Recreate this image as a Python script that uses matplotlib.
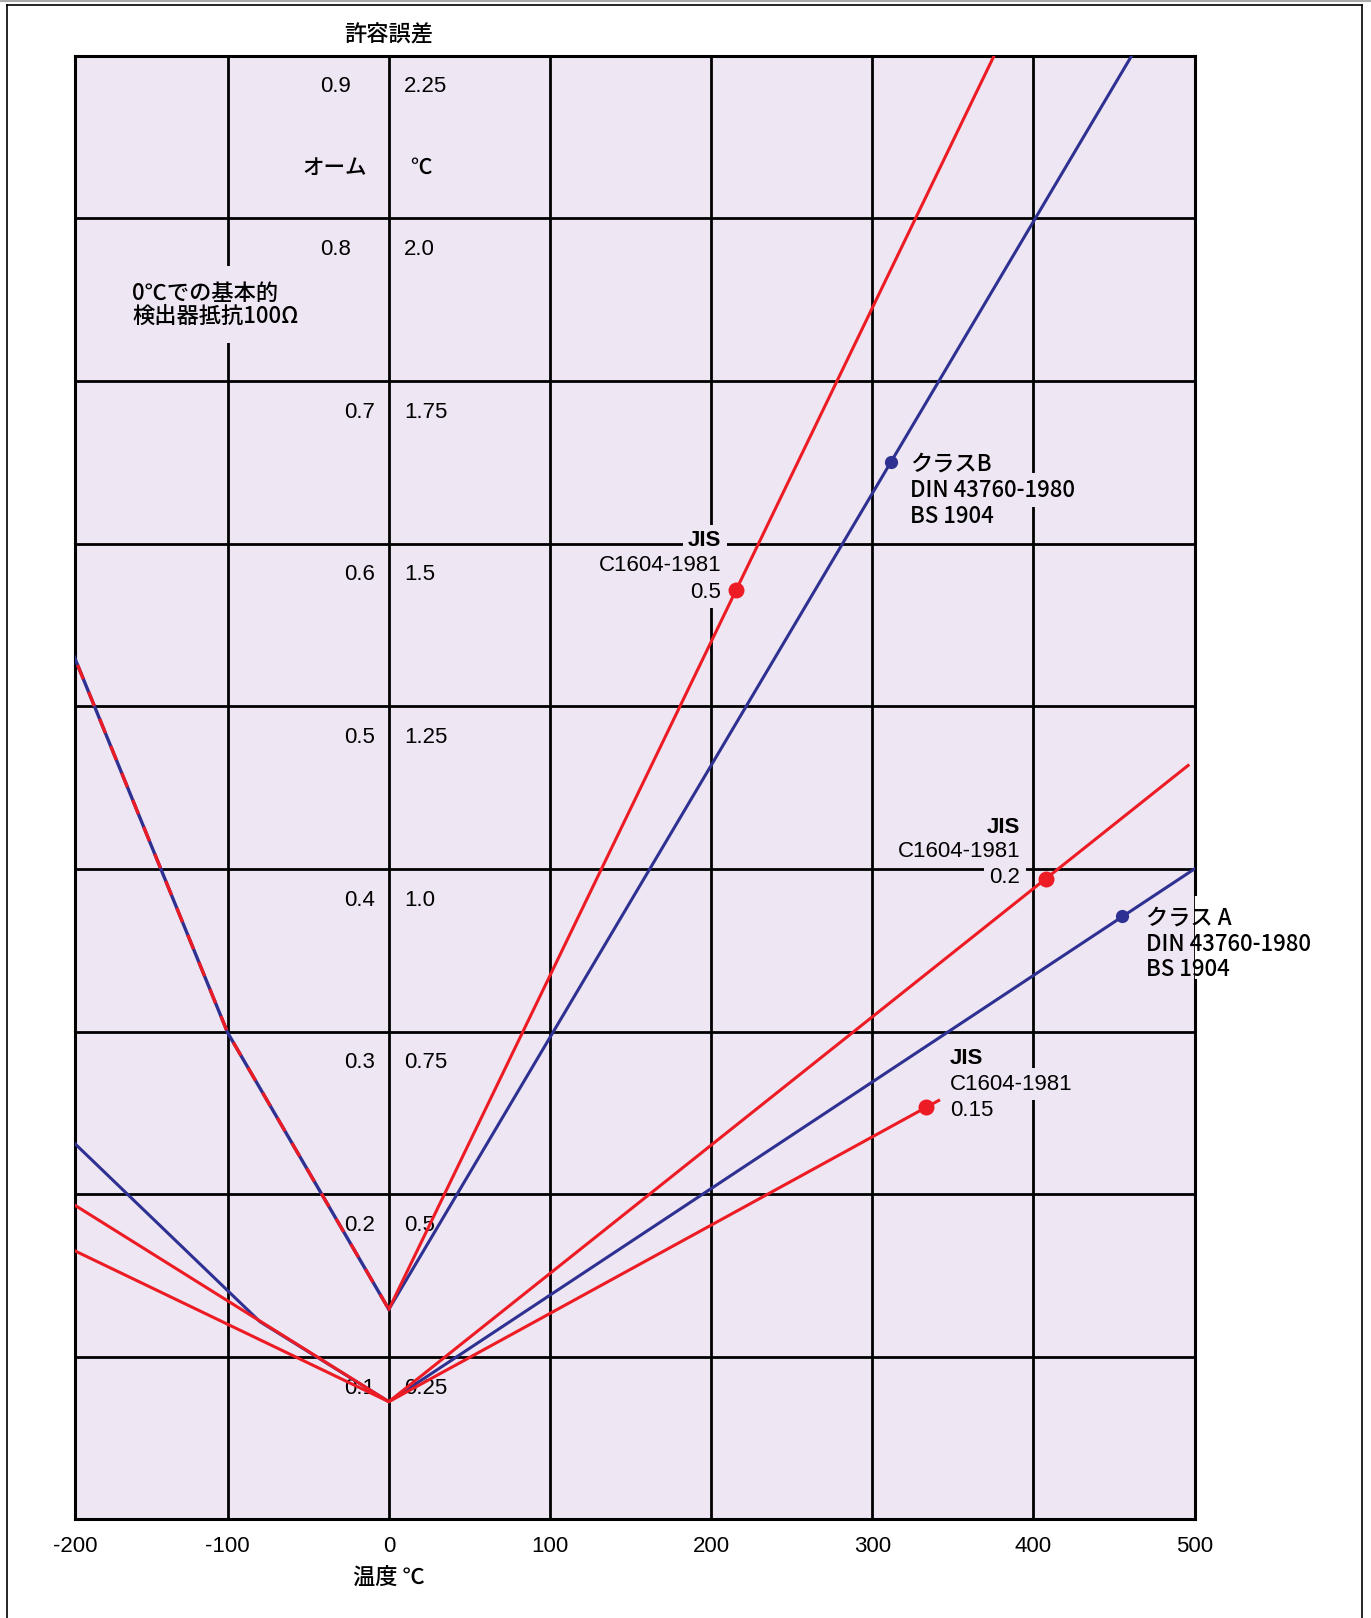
import matplotlib
matplotlib.use('Agg')
import matplotlib.pyplot as plt
from matplotlib.transforms import blended_transform_factory
from matplotlib.lines import Line2D

plt.rcParams['lines.scale_dashes'] = False

RED = '#ED1C24'
BLUE = '#2E3192'
BG = '#EEE6F2'
CJK = ['Noto Sans CJK JP', 'DejaVu Sans']
LAT = ['Liberation Sans', 'DejaVu Sans']
FS = 16
CJKW = 'medium'

# ---------------- data ----------------
x_ticks = [-200, -100, 0, 100, 200, 300, 400, 500]
x_tick_labels = ['-200', '-100', '0', '100', '200', '300', '400', '500']
grid_levels = [2.25, 2.0, 1.75, 1.5, 1.25, 1.0, 0.75, 0.5, 0.25]
ohm_labels = ['0.9', '0.8', '0.7', '0.6', '0.5', '0.4', '0.3', '0.2', '0.1']
degc_labels = ['2.25', '2.0', '1.75', '1.5', '1.25', '1.0', '0.75', '0.5', '0.25']

# tolerance lines (temperature degC -> tolerance degC)
jis05_x = [0, 375.6]
jis05_y = [0.323, 2.25]
classB_x = [0, 461]
classB_y = [0.323, 2.25]
wide_left_x = [-200, -100, 0]
wide_left_y = [1.355, 0.748, 0.323]
classA_x = [-200, -80, 0, 500]
classA_y = [0.590, 0.304, 0.181, 1.0]
jis02_x = [-200, 0, 496]
jis02_y = [0.491, 0.181, 1.159]
jis015_x = [-200, 0, 341.2]
jis015_y = [0.419, 0.181, 0.644]

# marker points
red_dot_x = [215.3, 407.7, 333.5]
red_dot_y = [1.428, 0.985, 0.634]
blue_dot_x = [311.8, 455.0]
blue_dot_y = [1.626, 0.928]

XMIN, XMAX = -194.6, 500
YMIN, YMAX = 0, 2.25
DY = 0.005  # small downward nudge of the text labels

# ---------------- figure ----------------
fig = plt.figure(figsize=(13.71, 16.18), dpi=100)
fig.patch.set_facecolor('white')
ax = fig.add_axes([0.0549, 0.0609, 0.8713 - 0.0549, 0.9656 - 0.0609])
ax.set_facecolor(BG)
ax.set_xlim(XMIN, XMAX)
ax.set_ylim(YMIN, YMAX)

tick_pos = [max(t, XMIN) for t in x_ticks]
ax.set_xticks(tick_pos)
ax.set_xticklabels(x_tick_labels, family=LAT, fontsize=FS)
ax.set_yticks(grid_levels[1:])
ax.set_yticklabels([])
ax.tick_params(axis='both', length=0, pad=12)
ax.set_axisbelow(True)
ax.grid(True, color='black', lw=2.0)

for s in ['left', 'top', 'bottom']:
    ax.spines[s].set_linewidth(2.2)
    ax.spines[s].set_color('black')
ax.spines['right'].set_visible(False)
# right edge drawn in two parts (gap behind the Class A label)
for y0, y1 in [(0, 0.3684), (0.4276, 1.0)]:
    ax.plot([1, 1], [y0, y1], transform=ax.transAxes, color='black', lw=2.2,
            clip_on=False, solid_capstyle='projecting', zorder=2.5)

# ---------------- lines ----------------
LW = 2.2
ax.plot(wide_left_x, wide_left_y, color=BLUE, lw=LW + 0.2, zorder=3)
ax.plot(wide_left_x, wide_left_y, color=RED, lw=LW + 0.2, zorder=3.1,
        dashes=(11, 10), solid_capstyle='butt', dash_capstyle='butt')
ax.plot(classA_x, classA_y, color=BLUE, lw=LW, zorder=3)
ax.plot(classB_x, classB_y, color=BLUE, lw=LW, zorder=3)
ax.plot(jis02_x, jis02_y, color=RED, lw=LW, zorder=3.2)
ax.plot(jis015_x, jis015_y, color=RED, lw=LW, zorder=3.2)
ax.plot(jis05_x, jis05_y, color=RED, lw=LW, zorder=3.2)

ax.plot(red_dot_x, red_dot_y, 'o', color=RED, ms=11.5, mec='none', zorder=4)
ax.plot(blue_dot_x, blue_dot_y, 'o', color=BLUE, ms=9.5, mec='none', zorder=4)

# ---------------- scale labels inside plot ----------------
for v, o, c in zip(grid_levels, ohm_labels, degc_labels):
    ox = -23.6 if v > 1.9 else -8.3
    ax.text(ox, v - 0.043 - DY, o, ha='right', va='center', family=LAT, fontsize=FS, zorder=2)
    ax.text(9.3, v - 0.043 - DY, c, ha='left', va='center', family=LAT, fontsize=FS, zorder=2)

ax.text(-13.4, 2.082 - DY, 'オーム', ha='right', va='center', family=CJK,
        fontsize=FS - 0.5, fontweight=CJKW, zorder=2)
ax.text(13.0, 2.082 - DY, '℃', ha='left', va='center', family=CJK,
        fontsize=FS - 0.5, fontweight=CJKW, zorder=2)

ax.text(-159.1, 1.872 - DY, '0℃での基本的\n検出器抵抗100Ω', ha='left', va='center',
        family=CJK, fontsize=FS, fontweight=CJKW, linespacing=1.0, zorder=2,
        bbox=dict(boxstyle='square,pad=0.7', fc=BG, ec='none'))

def label_lines(x, ys, texts, ha, weights=None, family=LAT):
    for i, (yy, t) in enumerate(zip(ys, texts)):
        w = weights[i] if weights else CJKW
        ax.text(x, yy - DY, t, ha=ha, va='center', family=family, fontsize=FS,
                fontweight=w, zorder=2,
                bbox=dict(boxstyle='square,pad=0.25', fc=BG, ec='none'))

label_lines(206.4, [1.509, 1.471, 1.430], ['JIS', 'C1604-1981', '0.5'], 'right',
            ['bold', 'normal', 'normal'])
label_lines(391.7, [1.069, 1.031, 0.991], ['JIS', 'C1604-1981', '0.2'], 'right',
            ['bold', 'normal', 'normal'])
label_lines(348.2, [0.7135, 0.674, 0.634], ['JIS', 'C1604-1981', '0.15'], 'left',
            ['bold', 'normal', 'normal'])
label_lines(323.3, [1.627, 1.587, 1.547], ['クラスB', 'DIN 43760-1980', 'BS 1904'], 'left',
            family=CJK)
for yy, t in zip([0.929, 0.889, 0.850], ['クラス A', 'DIN 43760-1980', 'BS 1904']):
    ax.text(469.6, yy - DY, t, ha='left', va='center', family=CJK, fontsize=FS,
            fontweight=CJKW, zorder=2, clip_on=False)

# ---------------- titles ----------------
bt = blended_transform_factory(ax.transData, ax.transAxes)
ax.text(0, 1.014, '許容誤差', transform=bt, ha='center', va='center',
        family=CJK, fontsize=FS, fontweight=CJKW)
ax.text(0, -0.0395, '温度 ℃', transform=bt, ha='center', va='center',
        family=CJK, fontsize=FS, fontweight=CJKW)

# ---------------- outer frame ----------------
fig.add_artist(Line2D([0, 1], [0.9991, 0.9991], transform=fig.transFigure, color='#AAAAAA', lw=1.5))
fig.add_artist(Line2D([0.0051, 0.0051], [0, 0.9972], transform=fig.transFigure, color='black', lw=1.2))
fig.add_artist(Line2D([0.0051, 0.9934], [0.9972, 0.9972], transform=fig.transFigure, color='black', lw=1.2))
fig.add_artist(Line2D([0.9934, 0.9934], [0, 0.9972], transform=fig.transFigure, color='black', lw=1.2))

fig.savefig('out.png', dpi=100, facecolor='white')
